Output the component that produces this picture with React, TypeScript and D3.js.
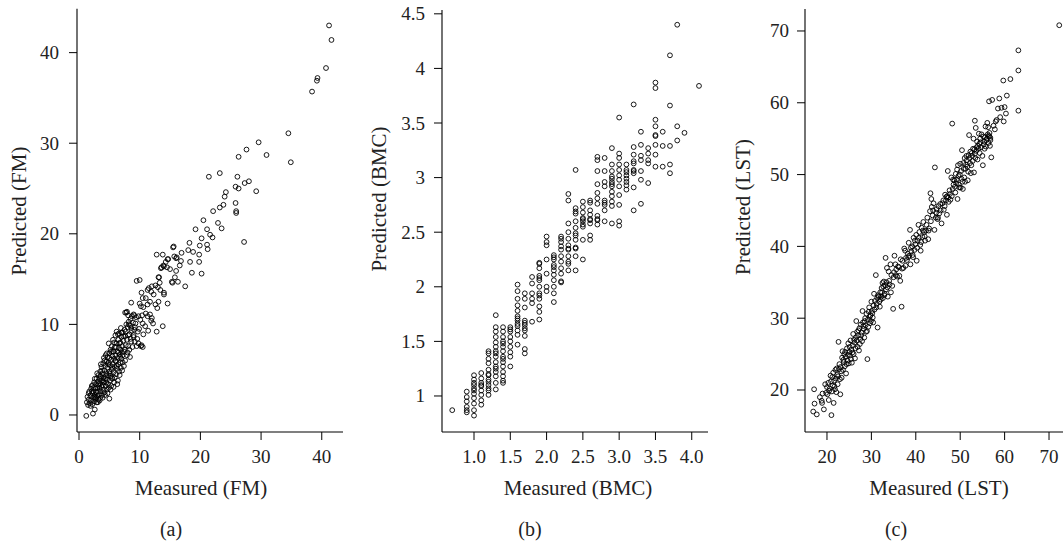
import React from "react";
import * as d3 from "d3";

const width = 1063;
const height = 544;
const font = "'Liberation Serif', 'Times New Roman', serif";

// (a) fat mass: [measured, predicted]
const fmPoints: [number, number][] = [
  [41.2, 43.0], [41.6, 41.4], [40.7, 38.3], [39.3, 37.2], [39.2, 36.9], [38.4, 35.7],
  [34.5, 31.1], [34.9, 27.9], [29.6, 30.1], [30.9, 28.7], [27.6, 29.3], [26.3, 28.5],
  [23.2, 26.7], [21.4, 26.3], [26.1, 26.3], [28.0, 25.8], [27.3, 25.6], [26.3, 25.0],
  [25.8, 25.2], [29.2, 24.7], [24.2, 24.6], [24.0, 24.1], [25.8, 23.4], [23.8, 23.2],
  [23.2, 22.9], [22.1, 22.5], [25.9, 22.5], [25.9, 22.3], [20.5, 21.5], [22.9, 21.2],
  [19.2, 20.5], [23.5, 20.6], [21.1, 20.5], [20.2, 19.5], [21.6, 19.9], [22.0, 19.6],
  [27.2, 19.1], [18.2, 19.0], [18.8, 18.0], [19.9, 18.7], [21.1, 18.8], [21.2, 18.3],
  [18.0, 18.2], [19.8, 17.7], [15.5, 18.5], [15.6, 18.6], [16.9, 17.9], [18.3, 16.9],
  [19.8, 16.9], [18.6, 15.7], [20.2, 15.6], [17.5, 14.2], [16.3, 14.7], [15.3, 14.7],
  [14.6, 12.3], [12.8, 17.7], [13.8, 17.7], [13.8, 9.8], [12.8, 9.2], [10.3, 7.7],
  [9.5, 14.8], [10.0, 14.9], [8.6, 12.4], [14.0, 13.3], [12.0, 14.2], [13.3, 14.6],
  [14.3, 16.9], [14.7, 17.2], [15.7, 17.5], [16.1, 17.4], [16.6, 16.5], [16.0, 15.9],
  [15.0, 16.1], [13.6, 16.3], [13.2, 15.2], [13.9, 16.5],
  [13.1, 15.2], [15.4, 14.6], [15.8, 15.2], [16.0, 17.3], [14.6, 17.2], [16.8, 17.0],
  [13.5, 16.2], [14.0, 16.4], [14.5, 16.3], [11.5, 14.0], [11.9, 13.6], [12.3, 13.3],
  [11.3, 13.8], [12.6, 14.3], [13.0, 14.1], [13.4, 13.8], [14.0, 13.5], [10.3, 13.5],
  [10.5, 12.9], [11.0, 12.9], [12.6, 12.2], [12.9, 11.8], [13.1, 12.5], [10.0, 12.3],
  [10.6, 11.9], [10.2, 12.0], [11.3, 12.2], [11.7, 12.5], [7.6, 11.3], [7.9, 11.4],
  [8.1, 11.0], [9.0, 11.1], [9.4, 10.8], [9.8, 10.9], [10.4, 11.0], [11.0, 11.2],
  [11.3, 10.9], [11.7, 11.1], [12.0, 10.7], [12.2, 10.1], [11.9, 10.4], [8.2, 10.0],
  [8.6, 9.6], [9.1, 9.4], [9.7, 9.2], [10.5, 10.1], [10.9, 9.8], [11.4, 9.3],
  [9.0, 8.8], [9.6, 8.4], [9.2, 8.1], [9.8, 7.9], [10.2, 7.6], [10.5, 7.5],
  [1.2, -0.1], [2.3, 0.15], [2.6, 0.6], [5.0, 1.8],
  [1.3, 1.4], [1.4, 2.0], [1.5, 1.1], [1.6, 1.7], [1.7, 2.6], [1.8, 1.3], [1.9, 2.1],
  [2.0, 2.9], [2.0, 1.6], [2.1, 3.2], [2.2, 2.4], [2.2, 1.2], [2.3, 1.9], [2.4, 3.0],
  [2.4, 2.6], [2.5, 1.5], [2.5, 3.6], [2.6, 2.2], [2.7, 2.9], [2.7, 1.8], [2.8, 3.4],
  [2.8, 2.5], [2.9, 4.0], [2.9, 1.4], [3.0, 3.0], [3.0, 2.1], [3.1, 3.7], [3.1, 2.6],
  [3.2, 4.4], [3.2, 1.7], [3.3, 3.2], [3.3, 2.3], [3.4, 4.0], [3.4, 2.9], [3.5, 4.8],
  [3.5, 3.5], [3.5, 1.9], [3.6, 2.6], [3.6, 4.2], [3.7, 3.1], [3.7, 5.3], [3.8, 3.8],
  [3.8, 2.2], [3.9, 4.6], [3.9, 3.3], [4.0, 5.7], [4.0, 2.8], [4.0, 4.1], [4.1, 6.3],
  [4.1, 3.6], [4.2, 4.9], [4.2, 2.5], [4.3, 5.4], [4.3, 4.0], [4.4, 6.6], [4.4, 3.2],
  [4.5, 4.6], [4.5, 5.9], [4.6, 2.8], [4.6, 3.9], [4.7, 5.2], [4.7, 6.4], [4.8, 4.4],
  [4.8, 3.4], [4.9, 5.8], [4.9, 7.9], [5.0, 4.8], [5.0, 6.8], [5.1, 3.8], [5.1, 5.5],
  [5.2, 7.2], [5.2, 4.3], [5.3, 6.1], [5.3, 3.2], [5.4, 5.0], [5.4, 7.6], [5.5, 6.5],
  [5.5, 4.0], [5.6, 5.6], [5.6, 8.3], [5.7, 4.7], [5.7, 7.0], [5.8, 6.2], [5.8, 3.6],
  [5.9, 5.3], [5.9, 7.5], [6.0, 8.8], [6.0, 6.6], [6.1, 4.5], [6.1, 5.9], [6.2, 7.9],
  [6.2, 9.2], [6.3, 5.1], [6.3, 7.0], [6.4, 6.3], [6.4, 3.8], [6.5, 8.3], [6.5, 5.6],
  [6.6, 7.4], [6.6, 9.0], [6.7, 4.4], [6.7, 6.7], [6.8, 8.0], [6.8, 5.8], [6.9, 7.2],
  [6.9, 9.6], [7.0, 6.2], [7.0, 8.6], [7.1, 4.9], [7.1, 7.6], [7.2, 9.1], [7.2, 6.6],
  [7.3, 8.2], [7.4, 5.4], [7.4, 7.0], [7.5, 9.4], [7.6, 6.0], [7.6, 8.7], [7.7, 7.7],
  [7.8, 11.3], [7.8, 10.0], [7.9, 8.3], [8.0, 6.9], [8.0, 9.7], [8.1, 7.6], [8.2, 10.3],
  [8.3, 8.9], [8.4, 6.4], [8.4, 9.9], [8.5, 10.6], [8.6, 8.1], [8.7, 9.3], [8.8, 7.5],
  [8.9, 10.2], [9.0, 8.6], [9.1, 11.0], [9.2, 9.7],
  [1.6, 2.4], [1.9, 1.0], [2.1, 2.6], [2.3, 3.3], [2.5, 2.0], [2.6, 4.0], [2.8, 1.9],
  [3.0, 4.6], [3.1, 1.4], [3.2, 3.4], [3.4, 1.6], [3.5, 4.3], [3.6, 5.6], [3.8, 4.9],
  [3.9, 1.9], [4.0, 3.7], [4.2, 6.0], [4.3, 2.2], [4.4, 4.3], [4.5, 3.6], [4.6, 6.8],
  [4.7, 2.4], [4.8, 5.6], [4.9, 3.0], [5.0, 6.3], [5.1, 4.6], [5.2, 2.8], [5.3, 7.0],
  [5.4, 4.1], [5.5, 5.3], [5.6, 7.0], [5.7, 3.1], [5.8, 8.0], [5.9, 4.1], [6.0, 6.0],
  [6.1, 7.5], [6.2, 5.4], [6.3, 3.4], [6.4, 8.9], [6.5, 6.9], [6.6, 4.8], [6.7, 7.9],
  [6.8, 6.4], [6.9, 5.2], [7.0, 9.1], [7.1, 6.9], [7.2, 5.8], [7.3, 8.7], [7.5, 7.2],
  [7.7, 9.2], [7.9, 6.6], [8.1, 8.8], [8.3, 7.2], [8.5, 8.4], [8.7, 10.9], [9.3, 10.1],
  [9.5, 7.6], [9.9, 9.5], [10.1, 10.5], [10.6, 8.9],
];

// (b) bone mineral content: measured values come in steps of 0.1, [measured, predicted list]
const bmcColumns: [number, number[]][] = [
  [0.7, [0.87]],
  [0.9, [1.04, 0.99, 0.95, 0.9, 0.87, 0.85]],
  [1.0, [1.19, 1.15, 1.12, 1.07, 1.02, 0.98, 0.93, 0.87, 0.82, 1.1, 1.05]],
  [1.1, [1.21, 1.16, 1.12, 1.1, 1.05, 1.01, 0.96, 0.92, 1.09]],
  [1.2, [1.41, 1.39, 1.34, 1.3, 1.24, 1.19, 1.15, 1.1, 1.05, 1.01, 1.2, 1.13, 1.07]],
  [1.3, [1.74, 1.63, 1.59, 1.54, 1.49, 1.45, 1.41, 1.36, 1.31, 1.27, 1.22, 1.18, 1.12, 1.06, 1.25, 1.39]],
  [1.4, [1.63, 1.59, 1.54, 1.5, 1.45, 1.41, 1.36, 1.31, 1.27, 1.22, 1.18, 1.12, 1.14, 1.34, 1.48]],
  [1.5, [1.63, 1.59, 1.54, 1.5, 1.45, 1.36, 1.27, 1.61, 1.4]],
  [1.6, [2.02, 1.96, 1.89, 1.83, 1.78, 1.73, 1.69, 1.64, 1.6, 1.56, 1.47, 1.71, 1.66]],
  [1.7, [1.94, 1.89, 1.81, 1.69, 1.65, 1.6, 1.55, 1.43, 1.39, 1.62, 1.67]],
  [1.8, [2.09, 2.03, 1.94, 1.89, 1.85, 1.68]],
  [1.9, [2.22, 2.21, 2.17, 2.1, 2.06, 2.0, 1.94, 1.89, 1.82, 1.77, 1.7, 2.08, 1.92]],
  [2.0, [2.46, 2.41, 2.38, 2.25, 2.12, 2.0, 1.96]],
  [2.1, [2.29, 2.25, 2.2, 2.15, 2.11, 2.06, 2.0, 1.94, 1.86, 2.18, 2.27]],
  [2.2, [2.46, 2.41, 2.37, 2.34, 2.28, 2.23, 2.17, 2.12, 2.05, 2.44, 2.04]],
  [2.3, [2.85, 2.79, 2.58, 2.5, 2.44, 2.38, 2.34, 2.28, 2.23, 2.15, 2.35, 2.21]],
  [2.4, [3.07, 2.72, 2.69, 2.67, 2.6, 2.54, 2.49, 2.43, 2.35, 2.28, 2.15, 2.47, 2.36]],
  [2.5, [2.78, 2.73, 2.68, 2.63, 2.6, 2.55, 2.43, 2.25, 2.57, 2.62]],
  [2.6, [2.79, 2.77, 2.7, 2.66, 2.61, 2.62, 2.58, 2.47, 2.43]],
  [2.7, [3.19, 3.16, 3.06, 2.94, 2.86, 2.81, 2.76, 2.65, 2.61, 2.57, 2.62]],
  [2.8, [3.18, 3.06, 2.96, 2.92, 2.79, 2.75, 2.7, 2.6, 2.77]],
  [2.9, [3.27, 3.12, 3.06, 3.01, 2.96, 2.92, 2.87, 2.83, 2.78, 2.74, 2.58, 2.99, 2.94]],
  [3.0, [3.55, 3.22, 3.18, 3.12, 3.07, 3.02, 2.98, 2.92, 2.84, 2.75, 2.6, 2.56]],
  [3.1, [3.12, 3.07, 3.02, 2.96, 2.93, 2.89, 3.05, 2.99]],
  [3.2, [3.67, 3.28, 3.21, 3.15, 3.07, 3.04, 2.91, 2.7, 3.13, 3.06]],
  [3.3, [3.42, 3.3, 3.2, 3.16, 3.06, 2.98, 2.76]],
  [3.4, [3.27, 3.22, 3.16, 3.13, 2.95]],
  [3.5, [3.87, 3.82, 3.53, 3.47, 3.39, 3.38, 3.3, 3.21, 3.1]],
  [3.6, [3.42, 3.29, 3.1]],
  [3.7, [4.12, 3.66, 3.29, 3.12, 3.04]],
  [3.8, [4.4, 3.47, 3.34]],
  [3.9, [3.41]],
  [4.1, [3.84]],
];
const bmcPoints: [number, number][] = bmcColumns.flatMap(([m, ps]) =>
  ps.map((p) => [m, p] as [number, number])
);

// (c) lean soft tissue: [measured, predicted]
const lstPoints: [number, number][] = [
  [17.1, 20.1], [17.2, 18.1], [16.9, 17.0], [17.7, 16.6], [18.4, 19.0], [18.8, 18.5],
  [18.9, 18.2], [19.0, 19.5], [19.3, 17.3], [19.6, 20.8], [19.8, 19.6], [20.0, 20.4],
  [20.1, 19.4], [20.3, 21.0], [20.4, 18.6], [20.6, 20.2], [20.8, 22.0], [20.9, 21.2],
  [21.0, 16.5], [21.1, 19.8], [21.3, 20.6], [21.4, 22.4], [21.5, 18.2], [21.6, 21.3],
  [21.8, 20.1], [21.9, 22.8], [22.0, 21.6], [22.1, 19.7], [22.3, 22.1], [22.4, 20.8],
  [22.6, 26.7], [22.7, 22.9], [22.8, 23.6], [22.9, 21.5], [23.0, 19.4], [23.1, 23.2],
  [23.2, 22.6], [23.4, 24.5], [23.5, 25.4], [23.6, 22.8], [23.8, 23.9], [23.9, 25.0],
  [24.0, 23.3], [24.2, 24.6], [24.3, 22.3], [24.5, 25.8], [24.6, 24.1], [24.8, 26.5],
  [24.9, 23.7], [25.0, 25.3], [25.2, 24.8], [25.3, 26.9], [25.5, 25.6], [25.6, 23.8],
  [25.8, 26.2], [25.9, 27.8], [26.0, 25.0], [26.2, 26.6], [26.3, 24.4], [26.5, 27.3],
  [26.6, 29.6], [26.8, 28.1], [26.9, 26.0], [27.0, 27.6], [27.2, 25.5], [27.3, 28.6],
  [27.5, 27.1], [27.6, 29.1], [27.8, 28.0], [27.9, 26.8], [28.0, 31.0], [28.1, 29.4],
  [28.3, 28.5], [28.4, 27.3], [28.6, 30.0], [28.7, 29.0], [28.9, 30.6], [29.0, 28.2],
  [29.1, 24.3], [29.2, 29.8], [29.4, 30.9], [29.5, 31.5], [29.7, 29.3], [29.8, 30.4],
  [30.0, 32.3], [30.1, 31.0], [30.3, 30.1], [30.5, 31.8], [30.6, 33.4], [30.8, 32.4],
  [31.0, 36.0], [31.1, 31.5], [31.3, 32.8], [31.4, 28.7], [31.6, 33.0], [31.8, 32.3],
  [32.0, 33.6], [32.2, 33.0], [32.3, 34.2], [32.5, 34.9], [32.6, 32.8], [32.8, 35.1],
  [33.0, 33.4], [33.1, 34.6], [33.2, 38.4], [33.4, 35.0], [33.5, 37.0], [33.7, 33.0],
  [33.9, 36.5], [34.1, 34.7], [34.3, 37.5], [34.5, 36.0], [34.7, 34.5], [34.9, 31.3],
  [35.0, 35.7], [35.2, 38.7], [35.4, 37.5], [35.6, 36.8], [35.8, 35.8], [36.0, 37.2],
  [36.3, 35.9], [36.8, 31.6], [36.6, 38.2], [36.9, 36.9],
  [37.2, 37.0], [37.4, 39.7], [37.6, 39.4], [37.8, 38.4], [38.0, 38.1], [38.2, 39.0],
  [38.4, 40.5], [38.5, 38.7], [38.7, 42.3], [38.8, 37.5], [39.0, 39.3], [39.2, 40.0],
  [39.3, 38.8], [39.5, 41.2], [39.7, 39.5], [39.9, 40.3], [40.1, 41.6], [40.2, 38.0],
  [40.4, 40.8], [40.6, 43.0], [40.8, 42.0], [41.0, 40.2], [41.1, 39.4], [41.3, 42.6],
  [41.5, 41.3], [41.7, 43.4], [41.9, 42.0], [42.1, 40.8], [42.3, 42.2], [42.6, 44.0],
  [42.8, 41.0], [43.0, 42.5], [43.2, 44.9], [43.3, 47.4], [43.5, 46.6], [43.6, 45.5],
  [43.8, 44.3], [44.0, 46.0], [44.2, 42.3], [44.3, 51.0], [44.5, 44.0], [44.7, 45.2],
  [44.9, 43.8], [45.1, 45.6], [45.3, 44.6], [45.5, 45.9], [45.8, 43.2], [46.0, 46.0],
  [46.3, 45.1], [46.6, 47.2], [46.8, 46.4], [47.0, 44.4], [47.1, 47.0], [47.2, 50.5],
  [47.4, 46.2], [47.6, 47.8], [47.8, 46.5], [48.0, 49.6], [48.2, 57.1], [48.3, 48.0],
  [48.5, 48.6], [48.7, 49.2], [48.9, 47.5], [49.0, 50.1], [49.2, 49.3], [49.4, 46.6],
  [49.5, 51.3], [49.7, 48.6], [49.9, 50.0], [50.0, 51.5], [50.1, 48.2], [50.3, 49.4],
  [50.4, 53.4], [50.6, 48.0], [50.8, 50.8],
  [51.0, 52.3], [51.1, 49.0], [51.3, 51.4], [51.5, 52.0], [51.7, 49.2], [51.9, 52.7],
  [52.0, 55.5], [52.2, 51.6], [52.4, 50.2], [52.6, 53.0], [52.8, 51.9], [53.0, 55.0],
  [53.1, 50.3], [53.2, 53.5], [53.3, 57.5], [53.4, 52.3], [53.5, 56.5], [53.7, 53.8],
  [53.9, 52.1], [54.0, 54.0], [54.2, 55.7], [54.4, 53.0], [54.6, 54.5], [54.8, 55.6],
  [55.0, 52.6], [55.1, 51.3], [55.3, 54.2], [55.5, 53.6], [55.7, 56.7], [55.9, 54.8],
  [56.0, 55.0], [56.1, 57.2], [56.3, 56.6], [56.4, 55.4], [56.5, 60.2], [56.6, 55.8],
  [56.7, 54.0], [56.8, 54.8], [57.0, 52.4], [57.2, 60.4], [57.5, 56.8], [57.8, 56.3],
  [58.0, 57.4], [58.2, 57.6], [58.5, 59.2], [58.8, 60.6], [59.0, 58.0], [59.3, 59.3],
  [59.7, 63.1], [59.8, 57.4], [60.0, 59.4], [60.3, 58.5], [60.5, 61.0], [61.3, 63.3],
  [63.1, 67.3], [63.1, 64.5], [63.1, 58.9], [72.3, 70.8],
  [20.5, 19.9], [21.2, 21.8], [21.7, 20.5], [22.2, 23.0], [22.5, 21.9], [23.3, 21.7],
  [23.7, 24.2], [24.1, 25.3], [24.4, 23.6], [24.7, 24.9], [25.1, 26.0], [25.4, 24.3],
  [25.7, 25.2], [26.1, 27.0], [26.4, 25.8], [26.7, 26.9], [27.1, 28.3], [27.4, 26.4],
  [27.7, 27.6], [28.2, 28.9], [28.5, 29.6], [28.8, 28.1], [29.3, 28.8], [29.6, 30.2],
  [29.9, 29.6], [30.2, 30.7], [30.4, 29.4], [30.7, 31.2], [31.2, 32.0], [31.5, 33.2],
  [31.9, 31.6], [32.1, 32.6], [32.4, 33.6], [32.7, 34.4], [32.9, 33.2], [33.3, 34.0],
  [33.6, 34.3], [34.0, 35.2], [34.4, 33.6], [35.1, 36.4], [35.5, 36.0], [36.2, 37.1],
  [36.5, 35.2], [37.0, 38.0], [37.7, 37.3], [38.3, 38.5], [38.9, 39.8], [39.4, 38.5],
  [39.8, 40.8], [40.3, 39.8], [40.7, 41.2], [41.2, 40.6], [41.6, 42.2], [42.0, 41.4],
  [42.4, 43.0], [42.9, 42.2], [43.4, 43.5], [43.9, 45.0], [44.6, 44.7], [45.0, 44.0],
  [45.6, 45.0], [46.2, 46.4], [46.5, 45.6], [46.9, 46.9], [47.3, 46.8], [47.7, 47.3],
  [48.1, 47.0], [48.4, 49.3], [48.8, 48.3], [49.1, 48.8], [49.3, 50.7], [49.6, 49.8],
  [49.8, 48.2], [50.2, 50.5], [50.5, 49.0], [50.7, 51.6], [50.9, 49.6], [51.2, 50.8],
  [51.4, 52.6], [51.6, 51.1], [51.8, 50.4], [52.1, 52.3], [52.3, 53.2], [52.5, 51.3],
  [52.7, 52.6], [52.9, 53.6], [53.3, 52.9], [53.6, 53.3], [53.8, 54.6], [54.1, 53.6],
  [54.3, 54.3], [54.5, 55.0], [54.7, 53.8], [55.2, 55.3], [55.4, 54.6], [55.6, 55.2],
  [55.8, 53.9], [56.2, 55.6], [56.4, 54.4], [56.6, 55.3], [56.8, 55.1],
];

// tick values
const fmTicks = [0, 10, 20, 30, 40];
const bmcTicksX = [1, 1.5, 2, 2.5, 3, 3.5, 4];
const bmcTicksY = [1, 1.5, 2, 2.5, 3, 3.5, 4, 4.5];
const lstTicks = [20, 30, 40, 50, 60, 70];

const plotBottom = 432;
const plotWidth = 266;

const panels = [
  {
    key: "a",
    points: fmPoints,
    xDomain: [-0.33, 43.5],
    yDomain: [-1.88, 44.85],
    left: 77,
    top: 8.7,
    xTicks: fmTicks,
    yTicks: fmTicks,
    xFormat: (d: number) => String(d),
    yFormat: (d: number) => String(d),
    yLabelGap: 18,
    xTitle: "Measured (FM)",
    yTitle: "Predicted (FM)",
    xTitleX: 201,
    yTitleX: 26,
    yTitleY: 211,
    tag: "(a)",
    tagX: 171,
  },
  {
    key: "b",
    points: bmcPoints,
    xDomain: [0.559, 4.224],
    yDomain: [0.67, 4.535],
    left: 442,
    top: 10,
    xTicks: bmcTicksX,
    yTicks: bmcTicksY,
    xFormat: d3.format(".1f"),
    yFormat: (d: number) => String(d),
    yLabelGap: 17,
    xTitle: "Measured (BMC)",
    yTitle: "Predicted (BMC)",
    xTitleX: 578,
    yTitleX: 386,
    yTitleY: 199,
    tag: "(b)",
    tagX: 530,
  },
  {
    key: "c",
    points: lstPoints,
    xDomain: [15.05, 74.95],
    yDomain: [14.15, 73.06],
    left: 805,
    top: 9,
    xTicks: lstTicks,
    yTicks: lstTicks,
    xFormat: (d: number) => String(d),
    yFormat: (d: number) => String(d),
    yLabelGap: 16,
    xTitle: "Measured (LST)",
    yTitle: "Predicted (LST)",
    xTitleX: 939,
    yTitleX: 750,
    yTitleY: 207,
    tag: "(c)",
    tagX: 896,
  },
];

function ScatterPanel(props: any) {
  const p = props.panel;
  const x = d3
    .scaleLinear()
    .domain(p.xDomain)
    .range([p.left, p.left + plotWidth]);
  const y = d3.scaleLinear().domain(p.yDomain).range([plotBottom, p.top]);
  const tickLen = 8;

  return (
    <g>
      {p.points.map(([m, pr]: [number, number], i: number) => (
        <circle
          key={i}
          cx={x(m)}
          cy={y(pr)}
          r={2.4}
          fill="none"
          stroke="#000"
          strokeWidth={0.9}
        />
      ))}
      {/* L-shaped box */}
      <line x1={p.left} x2={p.left} y1={p.top} y2={plotBottom} stroke="#000" strokeWidth={1.1} />
      <line
        x1={p.left}
        x2={p.left + plotWidth}
        y1={plotBottom}
        y2={plotBottom}
        stroke="#000"
        strokeWidth={1.1}
      />
      {p.xTicks.map((t: number) => (
        <g key={"x" + t}>
          <line x1={x(t)} x2={x(t)} y1={plotBottom} y2={plotBottom + tickLen} stroke="#000" strokeWidth={1} />
          <text x={x(t)} y={463} textAnchor="middle" fontSize={19} fontFamily={font} fill="#222">
            {p.xFormat(t)}
          </text>
        </g>
      ))}
      {p.yTicks.map((t: number) => (
        <g key={"y" + t}>
          <line x1={p.left - tickLen} x2={p.left} y1={y(t)} y2={y(t)} stroke="#000" strokeWidth={1} />
          <text
            x={p.left - p.yLabelGap}
            y={y(t) + 6.5}
            textAnchor="end"
            fontSize={19}
            fontFamily={font}
            fill="#222"
          >
            {p.yFormat(t)}
          </text>
        </g>
      ))}
      <text x={p.xTitleX} y={495} textAnchor="middle" fontSize={21} fontFamily={font} fill="#222">
        {p.xTitle}
      </text>
      <text
        transform={`translate(${p.yTitleX},${p.yTitleY}) rotate(-90)`}
        textAnchor="middle"
        fontSize={21}
        fontFamily={font}
        fill="#222"
      >
        {p.yTitle}
      </text>
      <text x={p.tagX} y={536} textAnchor="middle" fontSize={20} fontFamily={font} fill="#222">
        {p.tag}
      </text>
    </g>
  );
}

export default function App() {
  return (
    <div style={{ position: "absolute", left: 0, top: 0 }}>
      <svg width={width} height={height} style={{ display: "block", background: "#fff" }}>
        {panels.map((p) => (
          <ScatterPanel key={p.key} panel={p} />
        ))}
      </svg>
    </div>
  );
}
